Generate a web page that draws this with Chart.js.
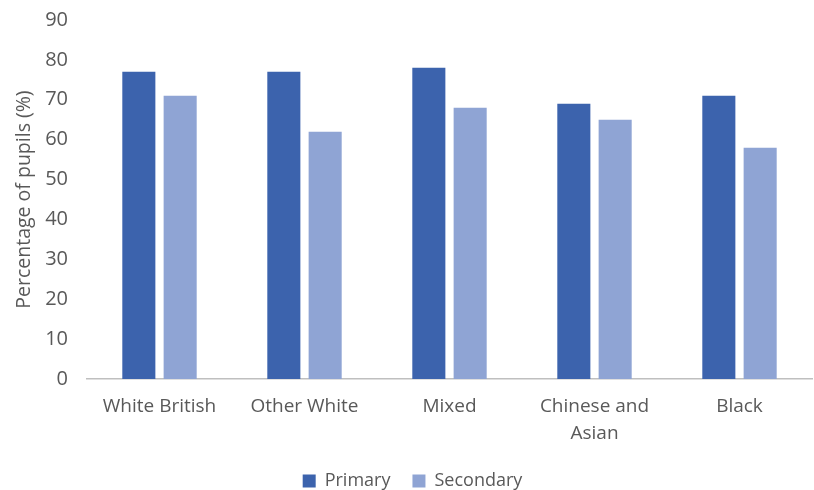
<!DOCTYPE html>
<html>
<head>
<meta charset="utf-8">
<script src="https://cdn.jsdelivr.net/npm/chart.js@4"></script>
<style>
  html, body { margin: 0; padding: 0; background: #fff; }
  #wrap { width: 814px; height: 490px; }
</style>
</head>
<body>
<div id="wrap"><canvas id="myChart" width="814" height="490"></canvas></div>
<script>
// pupils by ethnic group, primary vs secondary (%)
var groups = ['White British', 'Other White', 'Mixed', ['Chinese and', 'Asian'], 'Black'];
var primary = [77, 77, 78, 69, 71];
var secondary = [71, 62, 68, 65, 58];
var yTicks = [0, 10, 20, 30, 40, 50, 60, 70, 80, 90];

var grey = '#595959';
var fontFamily = "'Open Sans', 'Noto Sans', sans-serif";

var ctx = document.getElementById('myChart').getContext('2d');
var chart = new Chart(ctx, {
  type: 'bar',
  data: {
    labels: groups,
    datasets: [{
      label: 'Primary',
      backgroundColor: '#3c63ad',
      data: primary
    }, {
      label: 'Secondary',
      backgroundColor: '#8fa4d4',
      data: secondary
    }]
  },
  options: {
    responsive: false,
    animation: false,
    categoryPercentage: 0.57,
    barPercentage: 0.8,
    layout: { padding: { top: 0, right: 2, left: 13, bottom: -10 } },
    plugins: {
      legend: {
        position: 'bottom',
        labels: {
          color: grey,
          font: { family: fontFamily, size: 18 },
          boxWidth: 13,
          boxHeight: 13,
          padding: 22
        }
      },
      tooltip: { enabled: false }
    },
    scales: {
      x: {
        afterFit: function (axis) {
          axis.height -= 11;
        },
        grid: { display: false, drawTicks: false },
        border: { display: true, color: '#bfbfbf', width: 1.5 },
        ticks: {
          color: grey,
          font: { family: fontFamily, size: 19, lineHeight: 1.42 },
          padding: 14,
          maxRotation: 0
        }
      },
      y: {
        min: 0,
        max: 90,
        afterBuildTicks: function (axis) {
          axis.ticks = yTicks.map(function (v) { return { value: v }; });
        },
        afterFit: function (axis) {
          // fixed axis width, and keep the top label from pushing the plot down
          axis.width = 74;
          axis.paddingTop = 20;
          axis.paddingBottom = 0;
        },
        grid: { display: false, drawTicks: false },
        border: { display: false },
        ticks: {
          color: grey,
          font: { family: fontFamily, size: 20 },
          padding: 19
        },
        title: {
          display: true,
          text: 'Percentage of pupils (%)',
          color: grey,
          font: { family: fontFamily, size: 19.5 },
          padding: { top: 0, bottom: 4 }
        }
      }
    }
  }
});
</script>
</body>
</html>
